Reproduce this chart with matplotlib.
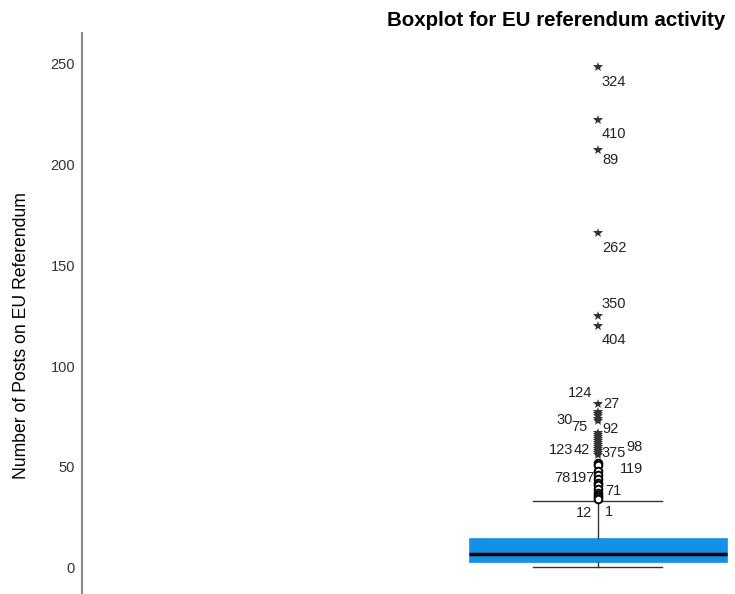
import matplotlib.pyplot as plt

plt.rcParams['font.family'] = ['Liberation Sans', 'DejaVu Sans']

# box summary (posts on EU referendum)
q1, med, q3 = 3, 7, 15
whis_lo, whis_hi = 0.5, 33

# outliers
mild_vals = [52, 51, 48, 46, 44, 42, 41, 39, 37, 36, 35, 34]
extreme_vals = [248, 222, 207, 166, 125, 120, 81, 77, 76, 75, 74, 73,
                67, 66, 65, 64, 63, 62, 61, 60, 59, 58, 57, 56]

# case labels and the value each one belongs to
label_text = ['324', '410', '89', '262', '350', '404', '27', '124', '30', '75', '92',
              '123', '42', '375', '98', '119', '78', '197', '71', '12', '1']
label_vals = [248, 222, 207, 166, 125, 120, 81, 81, 75, 75, 75,
              60, 60, 60, 60, 48, 48, 48, 36, 36, 36]
# offsets in pixels (dx, dy, ha)
label_offs = [(4, -15, 'left'), (4, -14, 'left'), (5, -10, 'left'), (4, -15, 'left'),
              (4, 12, 'left'), (4, -14, 'left'), (5, 0, 'left'), (-6, 11, 'right'),
              (-25, -4, 'right'), (-10, -11, 'right'), (5, -13, 'left'),
              (-25, -3, 'right'), (-8, -3, 'right'), (4, -6, 'left'), (29, 0, 'left'),
              (22, 2, 'left'), (-27, -7, 'right'), (-3, -7, 'right'),
              (7, 4, 'left'), (-6, -18, 'right'), (7, -17, 'left')]

pos = 0.79

fig = plt.figure(figsize=(7.35, 5.94), dpi=100)
ax = fig.add_axes([82 / 735, 0, 653 / 735, 561 / 594])

stats = [{'med': med, 'q1': q1, 'q3': q3, 'whislo': whis_lo, 'whishi': whis_hi, 'fliers': []}]
ax.bxp(stats, positions=[pos], widths=0.395, capwidths=0.1976, patch_artist=True,
       boxprops=dict(facecolor='#1590e6', edgecolor='#1590e6', linewidth=0.5),
       medianprops=dict(color='black', linewidth=2.5),
       whiskerprops=dict(color='#333333', linewidth=1),
       capprops=dict(color='#333333', linewidth=1))

ax.plot([pos] * len(mild_vals), mild_vals, 'o', mfc='white', mec='black',
        ms=5.5, mew=1.4, zorder=3)
ax.plot([pos] * len(extreme_vals), extreme_vals, '*', color='#333333',
        ms=7.5, mew=0, zorder=3)

for t, v, (dx, dy, ha) in zip(label_text, label_vals, label_offs):
    ax.annotate(t, xy=(pos, v), xytext=(dx, dy), textcoords='offset pixels',
                ha=ha, va='center', fontsize=10.5, color='#222222')

ax.set_xlim(0, 1)
ax.set_ylim(-12.9, 264.9)
ax.set_yticks([0, 50, 100, 150, 200, 250])
ax.tick_params(axis='y', length=0, pad=5, labelsize=10.5, labelcolor='#333333')
ax.set_xticks([])
for s in ['top', 'right', 'bottom']:
    ax.spines[s].set_visible(False)
ax.spines['left'].set_color('#888888')
ax.spines['left'].set_linewidth(1.5)

ax.set_ylabel('Number of Posts on EU Referendum', fontsize=12.7, color='black')
ax.yaxis.set_label_coords(-0.079, 0.46)

fig.text(556 / 735, 1 - 20 / 594, 'Boxplot for EU referendum activity',
         ha='center', va='center', fontsize=14.8, fontweight='bold')

fig.savefig('out.png', dpi=100)
